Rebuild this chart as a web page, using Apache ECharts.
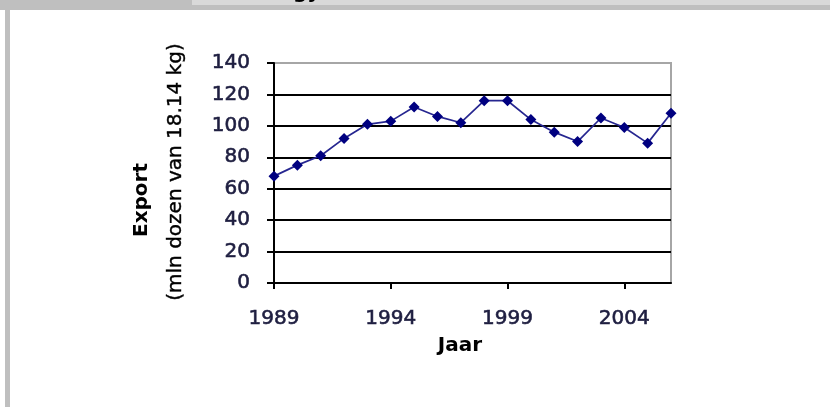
<!DOCTYPE html>
<html>
<head>
<meta charset="utf-8">
<title>Export</title>
<script src="https://cdn.jsdelivr.net/npm/echarts@6/dist/echarts.min.js"></script>
<style>
  html, body { margin: 0; padding: 0; background: #fff; }
  #chart { width: 830px; height: 407px; }
</style>
</head>
<body>
<div id="chart"></div>
<script>
// jaren op de x-as
var years = ['1989', '1990', '1991', '1992', '1993', '1994', '1995', '1996', '1997',
  '1998', '1999', '2000', '2001', '2002', '2003', '2004', '2005', '2006']
// export in mln dozen van 18.14 kg
var exportValues = [68, 75, 81, 92, 101, 103, 112, 106, 102, 116, 116, 104, 96, 90, 105, 99, 89, 108]
// y-as schaal
var yMin = 0
var yMax = 140
var yStep = 20

var font = 'DejaVu Sans'
var labelColor = '#1e1e40'

var chart = echarts.init(document.getElementById('chart'))

// kleur per rasterlijn, bovenste (140) is de grijze rand
var splitColors = []
for (var v = yMin; v <= yMax; v += yStep) {
  splitColors.push(v === yMax ? '#a6a6a6' : '#000')
}

var option = {
  animation: false,
  backgroundColor: '#fff',
  grid: {
    left: 274,
    right: 159,
    top: 63,
    bottom: 124,
    show: true,
    borderColor: '#a6a6a6',
    borderWidth: 2,
    backgroundColor: 'transparent'
  },
  xAxis: {
    type: 'category',
    data: years,
    boundaryGap: false,
    axisLine: { lineStyle: { color: '#000', width: 2 } },
    axisTick: { show: true, interval: 4, length: 6, lineStyle: { color: '#000', width: 2 } },
    axisLabel: {
      interval: 4,
      margin: 26,
      color: labelColor,
      fontFamily: font,
      fontSize: 20,
      textBorderColor: labelColor,
      textBorderWidth: 0.6
    },
    splitLine: { show: false }
  },
  yAxis: {
    type: 'value',
    min: yMin,
    max: yMax,
    interval: yStep,
    axisLine: { show: true, lineStyle: { color: '#000', width: 2 } },
    axisTick: { show: true, length: 7, lineStyle: { color: '#000', width: 2 } },
    axisLabel: {
      margin: 24,
      color: labelColor,
      fontFamily: font,
      fontSize: 20,
      textBorderColor: labelColor,
      textBorderWidth: 0.6,
      padding: [0, 0, 18, 0]
    },
    splitLine: { show: true, lineStyle: { color: splitColors, width: 2 } }
  },
  series: [{
    type: 'line',
    data: exportValues,
    symbol: 'diamond',
    symbolSize: [11, 11],
    showSymbol: true,
    lineStyle: { color: '#262690', width: 1.7 },
    itemStyle: { color: '#000080' }
  }],
  graphic: [
    // grijze randen van de pagina
    { type: 'rect', left: 0, top: 0, shape: { width: 830, height: 10 }, style: { fill: '#bfbfbf' }, silent: true },
    { type: 'rect', left: 192, top: 0, shape: { width: 638, height: 5 }, style: { fill: '#d9d9d9' }, silent: true },
    { type: 'text', x: 293, y: 3, style: { text: 'gy', fill: '#000', font: 'bold 20px DejaVu Sans', verticalAlign: 'bottom' }, silent: true },
    { type: 'rect', left: 0, top: 5, shape: { width: 830, height: 5 }, style: { fill: '#bfbfbf' }, silent: true },
    { type: 'rect', left: 5, top: 10, shape: { width: 5, height: 397 }, style: { fill: '#bfbfbf' }, silent: true },
    // as-titels
    {
      type: 'text', x: 142, y: 200, rotation: Math.PI / 2,
      style: { text: 'Export', fill: '#000', font: 'bold 20px DejaVu Sans', align: 'center', verticalAlign: 'middle' }
    },
    {
      type: 'text', x: 176, y: 172, rotation: Math.PI / 2,
      style: { text: '(mln dozen van 18.14 kg)', fill: '#000', font: '20px DejaVu Sans', align: 'center', verticalAlign: 'middle', stroke: '#000', lineWidth: 0.4 }
    },
    {
      type: 'text', x: 460, y: 346,
      style: { text: 'Jaar', fill: '#000', font: 'bold 20px DejaVu Sans', align: 'center', verticalAlign: 'middle' }
    }
  ]
}

chart.setOption(option)
</script>
</body>
</html>
